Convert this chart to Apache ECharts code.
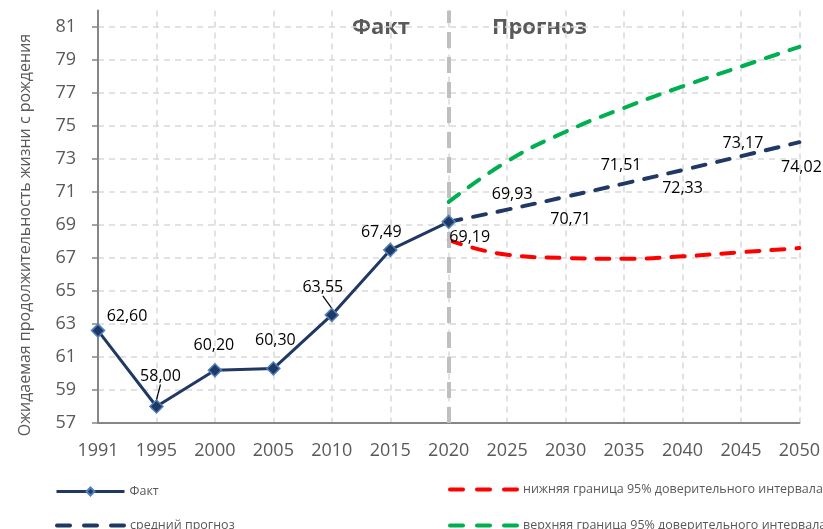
<!DOCTYPE html>
<html>
<head>
<meta charset="utf-8">
<script src="https://cdn.jsdelivr.net/npm/echarts@6/dist/echarts.min.js"></script>
<style>
  html, body { margin: 0; padding: 0; background: #fff; }
  #chart { width: 823px; height: 529px; }
</style>
</head>
<body>
<div id="chart"></div>
<script>
var myChart = echarts.init(document.getElementById('chart'));

var years = ['1991', '1995', '2000', '2005', '2010', '2015', '2020', '2025', '2030', '2035', '2040', '2045', '2050'];
var fact = [62.60, 58.00, 60.20, 60.30, 63.55, 67.49, 69.19, '-', '-', '-', '-', '-', '-'];
var meanForecast = ['-', '-', '-', '-', '-', '-', 69.19, 69.93, 70.71, 71.51, 72.33, 73.17, 74.02];
var lowerBound = ['-', '-', '-', '-', '-', '-', 68.1, 67.2, 67.0, 66.95, 67.1, 67.35, 67.6];
var upperBound = ['-', '-', '-', '-', '-', '-', 70.4, 72.85, 74.65, 76.1, 77.4, 78.6, 79.8];

// label offsets per point (hand placed like in the original)
var factOffsets = [[29, -14], [4, -30], [-1, -25], [2, -28], [-9, -27], [-9, -17], [21, 16]];
var meanOffsets = [[5, -15], [5, 23], [-3, -18], [0, 18], [2, -13], [2, 25]];
var leaderIdx = [1, 4];

var navy = '#1F3864';
var grey = '#595959';
var dash = [13, 12];

function fmt(v) {
    return v.toFixed(2).replace('.', ',');
}

var factData = fact.map(function (v, i) {
    if (v === '-') return '-';
    return { value: v, labelLine: { show: leaderIdx.indexOf(i) >= 0 } };
});

var meanData = meanForecast.map(function (v, i) {
    if (v === '-' || i === 6) return v;
    return { value: v, label: { show: true, offset: meanOffsets[i - 7] } };
});

var labelStyle = {
    position: 'inside',
    fontFamily: 'Open Sans',
    fontSize: 16,
    color: '#000',
    formatter: function (p) { return fmt(p.value); }
};

var dashedLegend = { width: 4, type: [13, 14], cap: 'round' };

option = {
    animation: false,
    textStyle: { fontFamily: 'Open Sans' },
    grid: { left: 98, right: 23, top: 10.5, bottom: 106 },
    xAxis: {
        type: 'category',
        data: years,
        boundaryGap: false,
        axisLine: { lineStyle: { color: '#868686', width: 2 } },
        axisTick: { show: false },
        axisLabel: { color: grey, fontSize: 18, margin: 19, fontFamily: 'Open Sans' },
        splitLine: { show: true, lineStyle: { color: '#d9d9d9', width: 1.5, type: [6, 5] } }
    },
    yAxis: {
        type: 'value',
        min: 57,
        max: 82,
        interval: 2,
        axisLine: { show: true, lineStyle: { color: '#868686', width: 2 } },
        axisTick: { show: true, length: 6, lineStyle: { color: '#868686', width: 1.5 } },
        axisLabel: { color: grey, fontSize: 18, margin: 22, showMaxLabel: false, fontFamily: 'Open Sans' },
        splitLine: { show: true, showMaxLine: false, showMinLine: false,
            lineStyle: { color: '#d9d9d9', width: 1.5, type: [6, 5] } }
    },
    legend: [
        { data: ['Факт'], left: 50, top: 480, itemHeight: 10, lineStyle: { width: 3 } },
        { data: ['средний прогноз'], left: 50, top: 514, itemStyle: { opacity: 0 }, lineStyle: dashedLegend },
        { data: ['нижняя граница 95% доверительного интервала'], left: 443, top: 478, itemStyle: { opacity: 0 }, lineStyle: dashedLegend },
        { data: ['верхняя граница 95% доверительного интервала'], left: 443, top: 514, itemStyle: { opacity: 0 }, lineStyle: dashedLegend }
    ].map(function (l) {
        l.itemWidth = 68;
        l.itemHeight = l.itemHeight || 14;
        l.itemGap = 0;
        l.textStyle = { color: grey, fontSize: 12.5, fontFamily: 'Open Sans' };
        return l;
    }),
    graphic: [
        { type: 'text', left: 352, top: 17, style: { text: 'Факт', fontSize: 22, fontWeight: 'bold', fill: grey, fontFamily: 'Open Sans' } },
        { type: 'text', left: 492, top: 17, style: { text: 'Прогноз', fontSize: 22, fontWeight: 'bold', fill: grey, fontFamily: 'Open Sans' } },
        { type: 'text', x: 25, y: 235, rotation: Math.PI / 2,
          style: { text: 'Ожидаемая продолжительность жизни с рождения', fontSize: 16, fill: grey,
                   fontFamily: 'Open Sans', align: 'center', verticalAlign: 'middle' } }
    ],
    series: [
        {
            name: 'нижняя граница 95% доверительного интервала',
            type: 'line',
            data: lowerBound,
            smooth: true,
            symbol: 'none',
            lineStyle: { color: '#FF0000', width: 4, type: dash, cap: 'round' },
            itemStyle: { color: '#FF0000' },
            z: 3
        },
        {
            name: 'верхняя граница 95% доверительного интервала',
            type: 'line',
            data: upperBound,
            smooth: true,
            symbol: 'none',
            lineStyle: { color: '#00B050', width: 4, type: dash, cap: 'round' },
            itemStyle: { color: '#00B050' },
            z: 3
        },
        {
            name: 'средний прогноз',
            type: 'line',
            data: meanData,
            smooth: true,
            symbol: 'circle',
            symbolSize: 1,
            showSymbol: true,
            lineStyle: { color: navy, width: 4, type: dash, cap: 'round' },
            itemStyle: { color: 'rgba(0,0,0,0)' },
            label: Object.assign({ show: false }, labelStyle),
            z: 4
        },
        {
            name: 'Факт',
            type: 'line',
            data: factData,
            symbol: 'diamond',
            symbolSize: 13,
            lineStyle: { color: navy, width: 3 },
            itemStyle: { color: navy, borderColor: '#4F81BD', borderWidth: 1.5 },
            label: Object.assign({ show: true }, labelStyle),
            labelLine: { show: false, lineStyle: { color: '#000', width: 1.2 } },
            labelLayout: function (p) {
                var o = factOffsets[p.dataIndex];
                return { dx: o[0], dy: o[1] };
            },
            markLine: {
                silent: true,
                symbol: 'none',
                label: { show: false },
                lineStyle: { color: '#bfbfbf', width: 4, type: [16, 9] },
                data: [{ xAxis: '2020' }]
            },
            z: 5
        }
    ]
};

myChart.setOption(option);
</script>
</body>
</html>
